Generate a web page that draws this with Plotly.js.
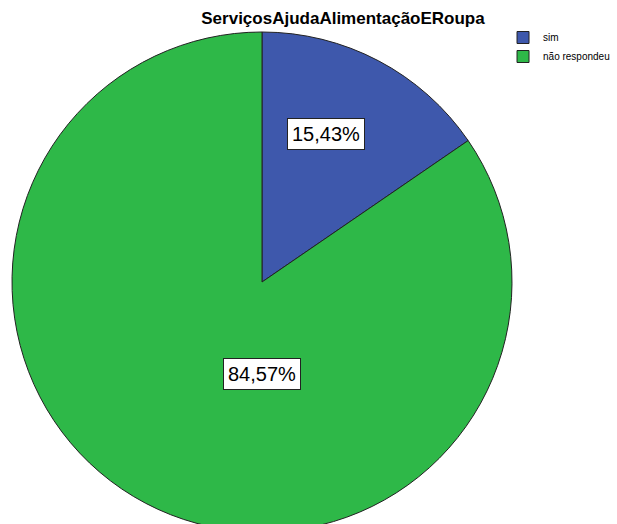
<!DOCTYPE html>
<html>
<head>
<meta charset="utf-8">
<script src="https://cdn.plot.ly/plotly-3.0.1.min.js"></script>
<style>
html, body { margin: 0; padding: 0; overflow: hidden; background: #fff; }
#chart { width: 617px; height: 532px; }
</style>
</head>
<body>
<div id="chart"></div>
<script>
const categories = ["sim", "não respondeu"];
const values = [15.43, 84.57];
const labelTexts = ["15,43%", "84,57%"];
const colors = ["#3e58ac", "#2eb848"];
const chartTitle = "ServiçosAjudaAlimentaçãoERoupa";

const FONT = "Arial, 'Liberation Sans', sans-serif";

const trace = {
  type: "pie",
  labels: categories,
  values: values,
  sort: false,
  direction: "clockwise",
  rotation: 0,
  textinfo: "none",
  hoverinfo: "label+percent",
  marker: { colors: colors, line: { color: "#222", width: 1 } },
  domain: { x: [0, 500 / 605], y: [0, 1] }
};

const annPos = [
  { x: 0.5198, y: 0.797 },
  { x: 0.414, y: 0.317 }
];

const annotations = labelTexts.map((t, i) => ({
  text: t,
  x: annPos[i].x, y: annPos[i].y,
  xref: "paper", yref: "paper",
  xanchor: "center", yanchor: "middle",
  showarrow: false,
  font: { family: FONT, size: 20, color: "#000" },
  bgcolor: "#fff",
  bordercolor: "#222",
  borderwidth: 1,
  borderpad: 4
}));

const layout = {
  width: 617,
  height: 532,
  margin: { l: 12, r: 0, t: 32, b: 0 },
  paper_bgcolor: "#fff",
  title: {
    text: "<b>" + chartTitle + "</b>",
    font: { family: FONT, size: 17, color: "#000" },
    x: 343 / 617, xref: "container", xanchor: "center",
    y: 1 - 18 / 532, yref: "container", yanchor: "middle"
  },
  showlegend: true,
  legend: {
    x: 0.8116, y: 1.018, xanchor: "left", yanchor: "top",
    font: { family: FONT, size: 10, color: "#000" },
    bgcolor: "rgba(0,0,0,0)",
    itemwidth: 30,
    tracegroupgap: 0
  },
  annotations: annotations
};

Plotly.newPlot("chart", [trace], layout, { displayModeBar: false, staticPlot: true });
</script>
</body>
</html>
